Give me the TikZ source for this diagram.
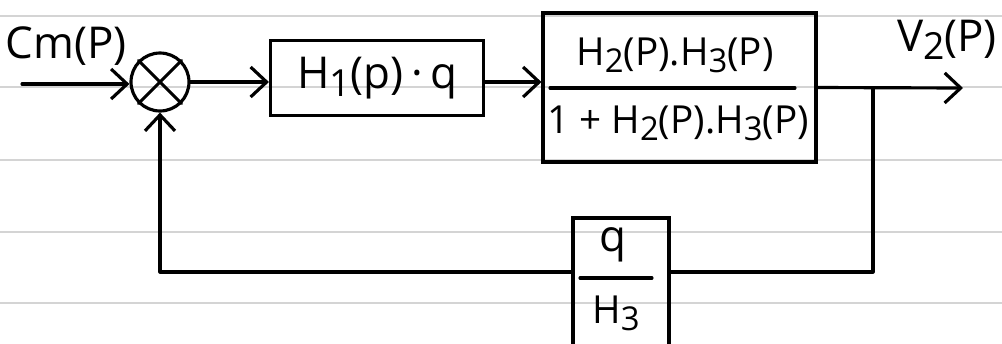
\documentclass[tikz,border=0pt]{standalone}
\usepackage{fontspec}
\setmainfont{Open Sans}
\usetikzlibrary{arrows.meta}
\newcommand\lowsub[1]{\raisebox{-0.35ex}{\scalebox{0.85}{#1}}}
\tikzset{
 ruling/.style={draw=black!17, line width=1.5pt},
 wire/.style={line width=1.8pt, line join=round, line cap=round},
 arr/.style={wire, -{Straight Barb[length=0.32cm, width=0.6cm, line width=1.8pt]}},
 blockbox/.style={draw, line width=1.8pt, inner sep=0pt},
 lblfont/.style={font=\fontsize{25}{30}\selectfont},
 lbl/.style={lblfont, inner sep=0pt},
 fraclbl/.style={font=\fontsize{22}{26}\selectfont, inner sep=0pt},
}
\begin{document}
\begin{tikzpicture}[x=0.02cm, y=-0.02cm]
\clip (0,0) rectangle (1002,343);
\fill[white] (0,0) rectangle (1002,343);
\foreach \y in {16,87,160,232,303} \draw[ruling] (0,\y) -- (1002,\y);
% summing junction
\node[draw, circle, line width=1.8pt, minimum size=1.16cm, inner sep=0pt] (sum) at (160,82) {};
\draw[wire] (sum.north west) -- (sum.south east) (sum.north east) -- (sum.south west);
% blocks
\node[blockbox, lblfont, minimum width=4.26cm, minimum height=1.5cm] (b1) at (377,78) {H\lowsub{1}(p)\,·\,q};
\node[blockbox, minimum width=5.46cm, minimum height=2.98cm] (b2) at (679.5,87.5) {};
\node[fraclbl] (num2) at (675,55) {H\lowsub{2}(P).H\lowsub{3}(P)};
\node[fraclbl] (den2) at (678,123) {1 + H\lowsub{2}(P).H\lowsub{3}(P)};
\draw[wire] (550,88) -- (795,88);
\node[blockbox, minimum width=1.92cm, minimum height=3cm] (b3) at (621,293) {};
\node[lbl] (num3) at (613,245) {q};
\node[fraclbl] (den3) at (616,313) {H\lowsub{3}};
\draw[wire] (580,278) -- (652,278);
% labels
\node[lbl] (cm) at (66,46) {Cm(P)};
\node[lbl] (v2) at (947,40) {V\lowsub{2}(P)};
% connectors
\coordinate (in) at (22,84);
\coordinate (out) at (963,88);
\coordinate (br) at (873,88);
\coordinate (fb) at (873,272);
\draw[arr] (in) -- (in -| sum.west);
\draw[arr] (sum.east) -- (sum.east -| b1.west);
\draw[arr] (b1.east |- sum.east) -- (sum.east -| b2.west);
\draw[arr] (b2.east) -- (out);
\draw[wire] (br) -- (fb) -- (fb -| b3.east);
\draw[arr] (fb -| b3.west) -| (sum.south);
\end{tikzpicture}
\end{document}
